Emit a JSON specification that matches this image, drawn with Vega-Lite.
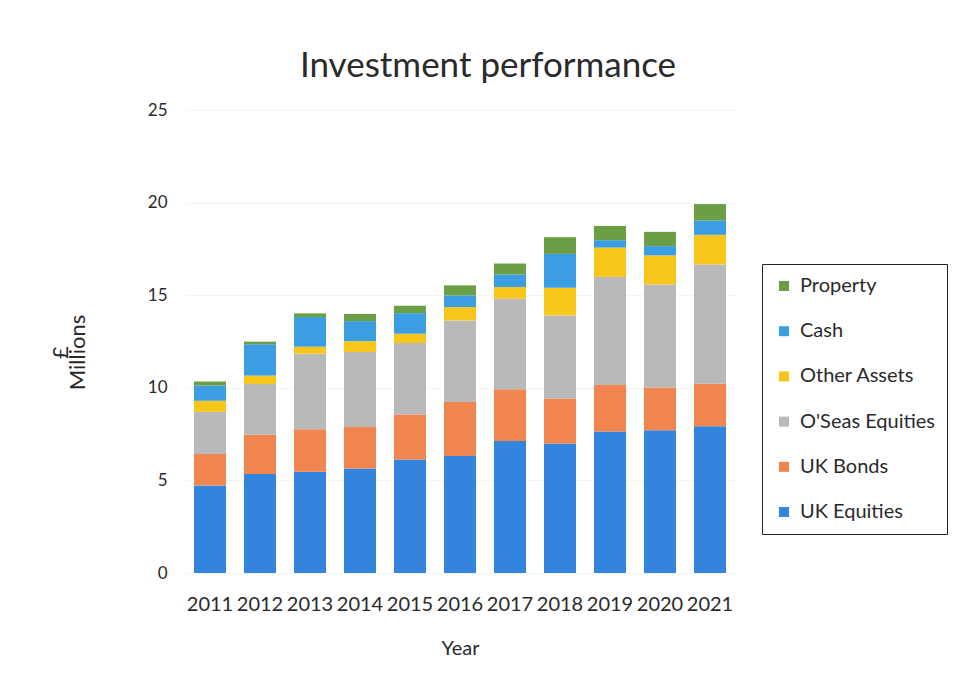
{
  "$schema": "https://vega.github.io/schema/vega-lite/v6.json",
  "autosize": {"type": "none"},
  "padding": {"left": 185, "top": 110, "right": 219, "bottom": 122},
  "width": 550,
  "height": 463,
  "background": "white",
  "title": {
    "text": "Investment performance",
    "font": "Lato",
    "fontSize": 35,
    "fontWeight": "normal",
    "color": "#2a2a2a",
    "anchor": "middle",
    "dx": 28,
    "offset": 17
  },
  "config": {
    "view": {"stroke": null},
    "font": "Lato"
  },
  "data": {
    "values": [
      {"year": "2011", "series": "UK Equities", "k": 1, "value": 4.72},
      {"year": "2011", "series": "UK Bonds", "k": 2, "value": 1.71},
      {"year": "2011", "series": "O'Seas Equities", "k": 3, "value": 2.27},
      {"year": "2011", "series": "Other Assets", "k": 4, "value": 0.6},
      {"year": "2011", "series": "Cash", "k": 5, "value": 0.82},
      {"year": "2011", "series": "Property", "k": 6, "value": 0.22},
      {"year": "2012", "series": "UK Equities", "k": 1, "value": 5.34},
      {"year": "2012", "series": "UK Bonds", "k": 2, "value": 2.12},
      {"year": "2012", "series": "O'Seas Equities", "k": 3, "value": 2.74},
      {"year": "2012", "series": "Other Assets", "k": 4, "value": 0.46},
      {"year": "2012", "series": "Cash", "k": 5, "value": 1.69},
      {"year": "2012", "series": "Property", "k": 6, "value": 0.14},
      {"year": "2013", "series": "UK Equities", "k": 1, "value": 5.47},
      {"year": "2013", "series": "UK Bonds", "k": 2, "value": 2.29},
      {"year": "2013", "series": "O'Seas Equities", "k": 3, "value": 4.08},
      {"year": "2013", "series": "Other Assets", "k": 4, "value": 0.38},
      {"year": "2013", "series": "Cash", "k": 5, "value": 1.6},
      {"year": "2013", "series": "Property", "k": 6, "value": 0.2},
      {"year": "2014", "series": "UK Equities", "k": 1, "value": 5.64},
      {"year": "2014", "series": "UK Bonds", "k": 2, "value": 2.25},
      {"year": "2014", "series": "O'Seas Equities", "k": 3, "value": 4.04},
      {"year": "2014", "series": "Other Assets", "k": 4, "value": 0.59},
      {"year": "2014", "series": "Cash", "k": 5, "value": 1.08},
      {"year": "2014", "series": "Property", "k": 6, "value": 0.39},
      {"year": "2015", "series": "UK Equities", "k": 1, "value": 6.13},
      {"year": "2015", "series": "UK Bonds", "k": 2, "value": 2.43},
      {"year": "2015", "series": "O'Seas Equities", "k": 3, "value": 3.86},
      {"year": "2015", "series": "Other Assets", "k": 4, "value": 0.5},
      {"year": "2015", "series": "Cash", "k": 5, "value": 1.11},
      {"year": "2015", "series": "Property", "k": 6, "value": 0.4},
      {"year": "2016", "series": "UK Equities", "k": 1, "value": 6.32},
      {"year": "2016", "series": "UK Bonds", "k": 2, "value": 2.91},
      {"year": "2016", "series": "O'Seas Equities", "k": 3, "value": 4.41},
      {"year": "2016", "series": "Other Assets", "k": 4, "value": 0.72},
      {"year": "2016", "series": "Cash", "k": 5, "value": 0.63},
      {"year": "2016", "series": "Property", "k": 6, "value": 0.54},
      {"year": "2017", "series": "UK Equities", "k": 1, "value": 7.13},
      {"year": "2017", "series": "UK Bonds", "k": 2, "value": 2.79},
      {"year": "2017", "series": "O'Seas Equities", "k": 3, "value": 4.9},
      {"year": "2017", "series": "Other Assets", "k": 4, "value": 0.62},
      {"year": "2017", "series": "Cash", "k": 5, "value": 0.68},
      {"year": "2017", "series": "Property", "k": 6, "value": 0.59},
      {"year": "2018", "series": "UK Equities", "k": 1, "value": 6.99},
      {"year": "2018", "series": "UK Bonds", "k": 2, "value": 2.43},
      {"year": "2018", "series": "O'Seas Equities", "k": 3, "value": 4.49},
      {"year": "2018", "series": "Other Assets", "k": 4, "value": 1.49},
      {"year": "2018", "series": "Cash", "k": 5, "value": 1.83},
      {"year": "2018", "series": "Property", "k": 6, "value": 0.9},
      {"year": "2019", "series": "UK Equities", "k": 1, "value": 7.64},
      {"year": "2019", "series": "UK Bonds", "k": 2, "value": 2.51},
      {"year": "2019", "series": "O'Seas Equities", "k": 3, "value": 5.84},
      {"year": "2019", "series": "Other Assets", "k": 4, "value": 1.58},
      {"year": "2019", "series": "Cash", "k": 5, "value": 0.4},
      {"year": "2019", "series": "Property", "k": 6, "value": 0.77},
      {"year": "2020", "series": "UK Equities", "k": 1, "value": 7.71},
      {"year": "2020", "series": "UK Bonds", "k": 2, "value": 2.3},
      {"year": "2020", "series": "O'Seas Equities", "k": 3, "value": 5.57},
      {"year": "2020", "series": "Other Assets", "k": 4, "value": 1.57},
      {"year": "2020", "series": "Cash", "k": 5, "value": 0.5},
      {"year": "2020", "series": "Property", "k": 6, "value": 0.77},
      {"year": "2021", "series": "UK Equities", "k": 1, "value": 7.92},
      {"year": "2021", "series": "UK Bonds", "k": 2, "value": 2.3},
      {"year": "2021", "series": "O'Seas Equities", "k": 3, "value": 6.44},
      {"year": "2021", "series": "Other Assets", "k": 4, "value": 1.6},
      {"year": "2021", "series": "Cash", "k": 5, "value": 0.77},
      {"year": "2021", "series": "Property", "k": 6, "value": 0.89}
    ]
  },
  "mark": {"type": "bar"},
  "encoding": {
    "x": {
      "field": "year",
      "type": "ordinal",
      "scale": {"paddingInner": 0.36, "paddingOuter": 0.18},
      "axis": {
        "title": "Year",
        "labelAngle": 0,
        "labelFontSize": 20,
        "labelColor": "#2a2a2a",
        "labelPadding": 21,
        "ticks": false,
        "domain": false,
        "titleFontSize": 20,
        "titleFontWeight": "normal",
        "titleColor": "#2a2a2a",
        "titlePadding": 24
      }
    },
    "y": {
      "field": "value",
      "type": "quantitative",
      "aggregate": "sum",
      "stack": "zero",
      "scale": {"domain": [0, 25]},
      "axis": {
        "title": ["£", "Millions"],
        "values": [0, 5, 10, 15, 20, 25],
        "labelFontSize": 17,
        "labelColor": "#2a2a2a",
        "labelPadding": 18,
        "ticks": false,
        "domain": false,
        "grid": true,
        "gridColor": "#f4f4f4",
        "titleFontSize": 22,
        "titleFontWeight": "normal",
        "titleColor": "#2a2a2a",
        "titlePadding": 58,
        "titleLineHeight": 17,
        "titleY": 242
      }
    },
    "color": {
      "field": "series",
      "type": "nominal",
      "scale": {
        "domain": ["Property", "Cash", "Other Assets", "O'Seas Equities", "UK Bonds", "UK Equities"],
        "range": ["#6a9f45", "#3b9ee2", "#f8c61a", "#b9b9b9", "#f0854f", "#3284dc"]
      },
      "legend": {
        "title": null,
        "orient": "none",
        "legendX": 577,
        "legendY": 154,
        "symbolType": "square",
        "symbolSize": 100,
        "symbolStrokeWidth": 0,
        "labelFontSize": 20,
        "labelColor": "#2a2a2a",
        "labelOffset": 6,
        "rowPadding": 25.2,
        "padding": 12,
        "strokeColor": "#222222",
        "fillColor": "white"
      }
    },
    "order": {"field": "k", "type": "quantitative", "sort": "ascending"}
  }
}
